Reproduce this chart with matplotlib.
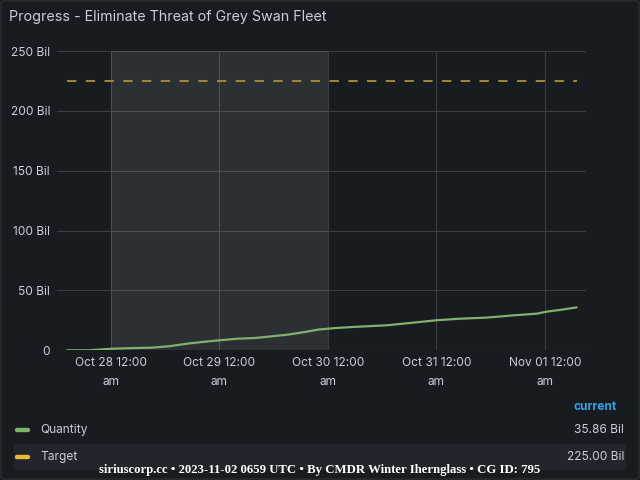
import numpy as np
import matplotlib
matplotlib.use('Agg')
import matplotlib.pyplot as plt
import matplotlib.dates as mdates
from matplotlib.patches import FancyBboxPatch, Rectangle
from datetime import datetime, timedelta

# hours since Oct 28 00:00 and quantity (billions)
qty_hours = [-9.7, -5.1, 0.15, 5.3, 9.0, 12.7, 17.0, 20.8, 24.1, 28.1, 31.9, 35.6, 39.2, 42.9,
             45.8, 49.6, 53.6, 61.0, 66.9, 72.0, 77.2, 83.1, 89.0, 94.2, 96.4, 99.3, 103.0]
qty_vals = [0.0, 0.0, 1.3, 1.9, 2.2, 3.3, 5.6, 7.2, 8.4, 9.7, 10.3, 11.7, 13.1, 15.3,
            17.3, 18.6, 19.5, 20.9, 23.1, 25.1, 26.4, 27.3, 29.2, 30.6, 32.3, 33.7, 35.86]
target_val = 225.0
current_vals = ['35.86 Bil', '225.00 Bil']
series_names = ['Quantity', 'Target']
title = 'Progress - Eliminate Threat of Grey Swan Fleet'
footer = 'siriuscorp.cc \u2022 2023-11-02 0659 UTC \u2022 By CMDR Winter Iherngl\u200bass \u2022 CG ID: 795'.replace('\u200b', '')
weekend = (datetime(2023, 10, 28), datetime(2023, 10, 30))

BG = '#181b1f'
TXT = '#ccccdc'
GREEN = '#7eb26d'
YELLOW = '#eab839'

plt.rcParams['font.family'] = ['Inter', 'DejaVu Sans']

base = datetime(2023, 10, 28)
t = [base + timedelta(hours=h) for h in qty_hours]

fig = plt.figure(figsize=(6.4, 4.8), dpi=100, facecolor=BG)
W, H = 640, 480

# panel border
fig.patches.append(FancyBboxPatch((1 / W, 1 / H), 638 / W, 478 / H, boxstyle='round,pad=0,rounding_size=0.006',
                                  transform=fig.transFigure, fc='none', ec='#2a2d33', lw=1))

ax = fig.add_axes([57 / W, (480 - 350.3) / H, (586 - 57) / W, (350.3 - 51) / H])
ax.set_facecolor(BG)
ax.axvspan(weekend[0], weekend[1], color='#ffffff', alpha=0.09, lw=0)
ax.plot(t, qty_vals, color=GREEN, lw=1.6, solid_capstyle='round')
ax.plot([t[0], t[-1]], [target_val, target_val], color='#9c8536', lw=1.5, linestyle=(0, (4.5, 4.5)))

ax.set_ylim(0, 250)
ax.set_yticks([0, 50, 100, 150, 200, 250])
ax.set_yticklabels(['0', '50 Bil', '100 Bil', '150 Bil', '200 Bil', '250 Bil'])
ax.set_xlim(base - timedelta(days=0.4977), base + timedelta(days=4.378))
ax.xaxis.set_major_locator(mdates.DayLocator())


def fmt(x, pos):
    d = mdates.num2date(x)
    return d.strftime('%b %d %I:%M') + '\n' + d.strftime('%p').lower()


ax.xaxis.set_major_formatter(plt.FuncFormatter(fmt))
ax.grid(True, color='#3a3d42', lw=0.8)
ax.set_axisbelow(True)
for s in ax.spines.values():
    s.set_visible(False)
ax.tick_params(length=0, colors=TXT, labelsize=8.6, pad=5)
for lab in ax.get_xticklabels():
    lab.set_linespacing(1.75)
    lab.set_verticalalignment('top')

fig.text(9 / W, 1 - 17 / H, title, color=TXT, fontsize=10.3, va='center', ha='left')

# legend
fig.text(617 / W, 1 - 407 / H, 'current', color='#33a2e5', fontsize=8.6, fontweight='bold', ha='right', va='center')
fig.patches.append(Rectangle((14 / W, 1 - 470 / H), 612 / W, 26 / H, transform=fig.transFigure,
                             fc='#22252b', ec='none'))
for i, (nm, val, c) in enumerate(zip(series_names, current_vals, [GREEN, YELLOW])):
    y = 1 - (430 + 27 * i) / H
    fig.add_artist(plt.Line2D([17 / W, 28 / W], [y, y], transform=fig.transFigure, color=c, lw=3.2,
                              solid_capstyle='round'))
    fig.text(40 / W, y, nm, color=TXT, fontsize=8.6, va='center', ha='left')
    fig.text(624 / W, y, val, color=TXT, fontsize=8.6, va='center', ha='right')

fig.text(320 / W, 1 - 470 / H, footer, color='white', fontsize=9.2, fontweight='bold',
         family=['Liberation Serif', 'DejaVu Serif'], ha='center', va='center')

fig.savefig('out.png', dpi=100, facecolor=BG)
